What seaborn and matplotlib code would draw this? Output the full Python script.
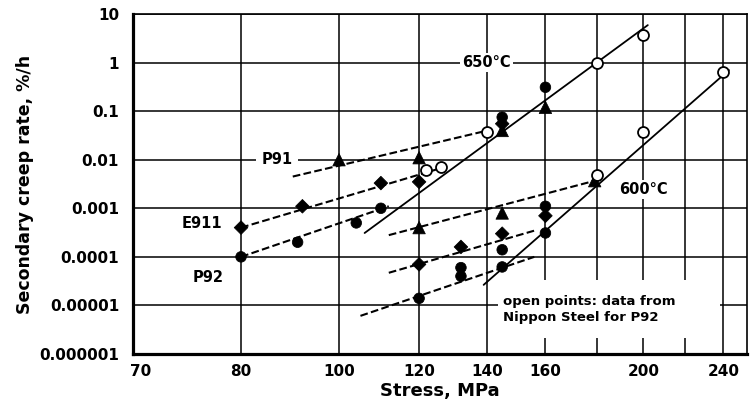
import numpy as np
import pandas as pd
import matplotlib
matplotlib.use("Agg")
import matplotlib.pyplot as plt
import seaborn as sns
from matplotlib.patches import Rectangle
from matplotlib.ticker import FixedLocator, FixedFormatter, NullLocator, NullFormatter

# ---------------- data ----------------
# 650 °C, own tests (filled symbols)
p91_650_stress = [100, 120, 145, 160]
p91_650_rate = [0.010, 0.011, 0.040, 0.12]
e911_650_stress = [80, 92, 110, 120, 145]
e911_650_rate = [0.0004, 0.0011, 0.0033, 0.0035, 0.055]
p92_650_stress = [80, 91, 104, 110, 145, 160]
p92_650_rate = [0.0001, 0.0002, 0.0005, 0.001, 0.075, 0.31]

# 600 °C, own tests (filled symbols)
p91_600_stress = [120, 145, 179]
p91_600_rate = [0.0004, 0.0008, 0.0037]
e911_600_stress = [120, 132, 145, 160]
e911_600_rate = [0.00007, 0.00016, 0.0003, 0.0007]
p92_600_stress = [120, 132, 132, 145, 145, 160, 160]
p92_600_rate = [1.4e-5, 4e-5, 6e-5, 6.2e-5, 0.00014, 0.00031, 0.0011]

# Nippon Steel P92 (open symbols)
ns_650_stress = [122, 126, 140, 180, 200]
ns_650_rate = [0.006, 0.007, 0.037, 1.0, 3.7]
ns_600_stress = [180, 200, 240]
ns_600_rate = [0.0049, 0.037, 0.64]

# fitted lines: name, style, stress end points, rate end points
fit_names = ["P91 650", "E911 650", "P92 650", "P91 600", "E911 600", "P92 600", "650°C", "600°C"]
fit_kind = ["dash", "dash", "dash", "dash", "dash", "dash", "solid", "solid"]
fit_stress = [(90, 141), (80, 127), (80, 112), (112, 180), (112, 157), (105, 156), (106, 202), (139, 243)]
fit_rate = [(0.0045, 0.041), (0.0004, 0.007), (0.0001, 0.0011), (0.00028, 0.0038),
            (4.7e-5, 0.00036), (6.1e-6, 1.0e-4), (0.00031, 5.9), (2.65e-5, 0.70)]

# axis ticks
y_ticks = [1e-6, 1e-5, 1e-4, 1e-3, 1e-2, 1e-1, 1, 10]
y_ticklabels = ["0.000001", "0.00001", "0.0001", "0.001", "0.01", "0.1", "1", "10"]
x_ticks = [63.7, 80, 100, 120, 140, 160, 200, 240]
x_ticklabels = ["70", "80", "100", "120", "140", "160", "200", "240"]
x_minor = [180, 220]

# ---------------- build tables ----------------
rows = []
for steel, temp, s, r in [("P91", 650, p91_650_stress, p91_650_rate),
                          ("E911", 650, e911_650_stress, e911_650_rate),
                          ("P92", 650, p92_650_stress, p92_650_rate),
                          ("P91", 600, p91_600_stress, p91_600_rate),
                          ("E911", 600, e911_600_stress, e911_600_rate),
                          ("P92", 600, p92_600_stress, p92_600_rate)]:
    for a, b in zip(s, r):
        rows.append(dict(steel=steel, temp=temp, stress=a, rate=b))
filled = pd.DataFrame(rows)

open_df = pd.DataFrame(dict(stress=ns_650_stress + ns_600_stress,
                            rate=ns_650_rate + ns_600_rate))

fit_rows = []
for n, k, s, r in zip(fit_names, fit_kind, fit_stress, fit_rate):
    for a, b in zip(s, r):
        fit_rows.append(dict(line=n, kind=k, stress=a, rate=b))
fits = pd.DataFrame(fit_rows)

# ---------------- plot ----------------
sns.set_theme(style="white")
plt.rcParams['font.family'] = ['DejaVu Sans']
plt.rcParams['font.weight'] = 'bold'
plt.rcParams['text.color'] = 'black'
plt.rcParams['axes.labelcolor'] = 'black'
plt.rcParams['xtick.color'] = 'black'
plt.rcParams['ytick.color'] = 'black'

fig = plt.figure(figsize=(7.5, 4.01), dpi=100)
ax = fig.add_axes([0.1773, 0.1172, 0.8187, 0.8479])
ax.set_xscale("log")
ax.set_yscale("log")
ax.set_xlim(62.55, 253.2)
ax.set_ylim(1e-6, 10)

# grid
ax.set_axisbelow(True)
ax.xaxis.set_major_locator(FixedLocator(x_ticks))
ax.xaxis.set_major_formatter(FixedFormatter(x_ticklabels))
ax.xaxis.set_minor_locator(FixedLocator(x_minor))
ax.xaxis.set_minor_formatter(NullFormatter())
ax.yaxis.set_major_locator(FixedLocator(y_ticks))
ax.yaxis.set_major_formatter(FixedFormatter(y_ticklabels))
ax.yaxis.set_minor_locator(NullLocator())
ax.grid(True, which="both", axis="x", color="black", lw=1.1)
ax.grid(True, which="major", axis="y", color="black", lw=1.1)
ax.get_xgridlines()[0].set_visible(False)

# fitted lines
for n, k in zip(fit_names, fit_kind):
    d = fits[fits["line"] == n]
    sns.lineplot(data=d, x="stress", y="rate", ax=ax, color="black",
                 lw=1.5 if k == "dash" else 1.3, estimator=None, sort=False,
                 legend=False, zorder=3,
                 linestyle="--" if k == "dash" else "-",
                 dashes=(5.5, 3) if k == "dash" else (None, None))

# filled symbols
sns.scatterplot(data=filled, x="stress", y="rate", style="steel", size="steel",
                markers={"P91": "^", "E911": "D", "P92": "o"},
                sizes={"P91": 80, "E911": 48, "P92": 58},
                style_order=["P91", "E911", "P92"],
                color="black", edgecolor="black", legend=False, ax=ax, zorder=4)
# open symbols
sns.scatterplot(data=open_df, x="stress", y="rate", marker="o", s=62,
                facecolor="white", edgecolor="black", linewidth=1.3,
                legend=False, ax=ax, zorder=5)

# white background for the note
ax.add_patch(Rectangle((0.594, 0.047), 0.362, 0.171, transform=ax.transAxes,
                       facecolor="white", edgecolor="none", zorder=1))

box = dict(facecolor="white", edgecolor="none", pad=1.5)
ax.text(140, 1.0, "650°C", ha="center", va="center", fontsize=10.5,
        fontweight="bold", bbox=box, zorder=2)
ax.text(200, 0.0024, "600°C", ha="center", va="center", fontsize=10.5,
        fontweight="bold", bbox=box, zorder=2)
ax.text(86.8, 0.01, "P91", ha="center", va="center", fontsize=10.5,
        fontweight="bold", bbox=dict(facecolor="white", edgecolor="none", pad=4), zorder=2)
ax.text(73.2, 0.00048, "E911", ha="center", va="center", fontsize=10.5,
        fontweight="bold", zorder=2)
ax.text(74.2, 3.7e-5, "P92", ha="center", va="center", fontsize=10.5,
        fontweight="bold", zorder=2)
ax.text(145.3, 8.3e-6, "open points: data from\nNippon Steel for P92",
        ha="left", va="center", fontsize=9.5, fontweight="bold",
        linespacing=1.25, zorder=2)

# spines and ticks
for side in ["left", "bottom"]:
    ax.spines[side].set_linewidth(2.3)
    ax.spines[side].set_color("black")
for side in ["top", "right"]:
    ax.spines[side].set_linewidth(1.2)
    ax.spines[side].set_color("black")
ax.tick_params(axis="y", which="major", direction="out", length=4, width=1.5,
               color="black", pad=6, labelsize=11, labelcolor="black")
ax.tick_params(axis="x", which="both", length=0, pad=7, labelsize=11,
               labelcolor="black")
for lab in ax.get_xticklabels() + ax.get_yticklabels():
    lab.set_fontweight("bold")

ax.set_xlabel("Stress, MPa", fontsize=13, fontweight="bold", labelpad=2, color="black")
ax.set_ylabel("Secondary creep rate, %/h", fontsize=12.5, fontweight="bold",
              labelpad=4, color="black")

fig.savefig("out.png", dpi=100)
